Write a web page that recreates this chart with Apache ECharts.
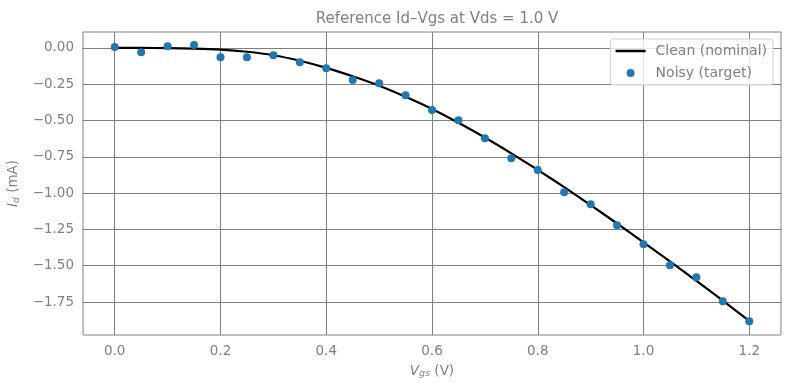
<!DOCTYPE html>
<html><head><meta charset="utf-8">
<script src="https://cdn.jsdelivr.net/npm/echarts@6/dist/echarts.min.js"></script>
<style>html,body{margin:0;padding:0;background:#fff}#c{width:790px;height:390px}</style>
</head><body><div id="c"></div>
<script>
const vgs = [0.00,0.05,0.10,0.15,0.20,0.25,0.30,0.35,0.40,0.45,0.50,0.55,0.60,0.65,0.70,0.75,0.80,0.85,0.90,0.95,1.00,1.05,1.10,1.15,1.20];
const noisyId = [0.007,-0.030,0.012,0.021,-0.064,-0.064,-0.050,-0.099,-0.140,-0.220,-0.243,-0.326,-0.427,-0.498,-0.622,-0.760,-0.841,-0.994,-1.077,-1.221,-1.352,-1.497,-1.580,-1.745,-1.883];
const cleanId = [0.000,0.000,-0.001,-0.004,-0.011,-0.026,-0.050,-0.088,-0.137,-0.195,-0.260,-0.336,-0.420,-0.515,-0.617,-0.726,-0.840,-0.959,-1.082,-1.209,-1.339,-1.470,-1.604,-1.740,-1.880];
const xTicks = [0.0,0.2,0.4,0.6,0.8,1.0,1.2];
const yTicks = [0.00,-0.25,-0.50,-0.75,-1.00,-1.25,-1.50,-1.75];

const grey = '#808080';
const font = 'DejaVu Sans';
const chart = echarts.init(document.getElementById('c'));
const minusFmt = (d) => (v) => (v < 0 ? '\u2212' : '') + Math.abs(v).toFixed(d);
const nameRich = {
  i: {fontStyle: 'italic', fontSize: 13.5, color: grey, fontFamily: font},
  s: {fontStyle: 'italic', fontSize: 9.5, color: grey, fontFamily: font, verticalAlign: 'bottom', padding: [6,0,0,0]}
};
chart.setOption({
  animation: false,
  backgroundColor: '#fff',
  textStyle: {fontFamily: font},
  title: {
    text: 'Reference Id\u2013Vgs at Vds = 1.0 V',
    left: 432, top: 7, textAlign: 'center',
    textStyle: {color: grey, fontSize: 15, fontWeight: 'normal', fontFamily: font}
  },
  legend: {
    right: 17, top: 39, orient: 'vertical',
    itemWidth: 30, itemHeight: 8, itemGap: 6,
    padding: [4, 6, 4, 4],
    borderColor: '#d0d0d0', borderWidth: 1, borderRadius: 3,
    backgroundColor: 'rgba(255,255,255,0.8)',
    textStyle: {color: grey, fontSize: 14, fontFamily: font, lineHeight: 16, padding: [0, 0, 0, 5]},
    data: [
      {name: 'Clean (nominal)', itemStyle: {opacity: 0}, lineStyle: {color: '#000', width: 2.5}},
      {name: 'Noisy (target)', icon: 'circle'}
    ]
  },
  grid: {left: 83, right: 9, top: 32, bottom: 55, show: true, borderColor: grey, borderWidth: 1, outerBoundsMode: 'none', containLabel: false},
  xAxis: {
    type: 'value', min: -0.06, max: 1.26,
    name: '{i|V}{s|gs} (V)', nameLocation: 'middle', nameGap: 28,
    nameTextStyle: {color: grey, fontSize: 13.5, rich: nameRich},
    axisLine: {show: true, lineStyle: {color: grey}},
    axisTick: {show: true, length: 5, lineStyle: {color: grey}, customValues: xTicks},
    axisLabel: {color: grey, fontSize: 13.5, margin: 9, customValues: xTicks, formatter: minusFmt(1)},
    splitLine: {show: true, lineStyle: {color: grey, width: 1}}
  },
  yAxis: {
    type: 'value', min: -1.977, max: 0.11,
    name: '{i|I}{s|d} (mA)', nameLocation: 'middle', nameGap: 58, nameRotate: 90,
    nameTextStyle: {color: grey, fontSize: 13.5, rich: nameRich},
    axisLine: {show: true, lineStyle: {color: grey}},
    axisTick: {show: true, length: 5, lineStyle: {color: grey}, customValues: yTicks},
    axisLabel: {color: grey, fontSize: 13.5, margin: 9, customValues: yTicks, formatter: minusFmt(2)},
    splitLine: {show: true, lineStyle: {color: grey, width: 1}}
  },
  series: [
    {name: 'Clean (nominal)', type: 'line', data: vgs.map((x, i) => [x, cleanId[i]]),
     symbol: 'none', smooth: 0.2, lineStyle: {color: '#000', width: 2.2}, itemStyle: {color: '#000'}, z: 2},
    {name: 'Noisy (target)', type: 'scatter', data: vgs.map((x, i) => [x, noisyId[i]]),
     symbolSize: 8, itemStyle: {color: '#1f77b4', opacity: 1}, z: 3}
  ]
});
</script></body></html>
